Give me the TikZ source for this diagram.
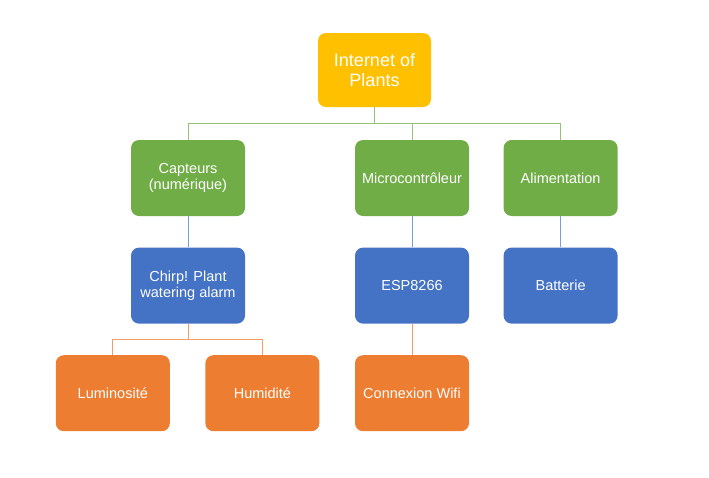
\documentclass[tikz,border=0pt]{standalone}
\usepackage{fontspec}
\setmainfont{Liberation Sans}
\usetikzlibrary{positioning}

\definecolor{gold}{HTML}{FFC000}
\definecolor{leafgreen}{HTML}{70AD47}
\definecolor{deepblue}{HTML}{4472C4}
\definecolor{carrot}{HTML}{ED7D31}

\begin{document}
\begin{tikzpicture}[x=1pt,y=1pt,node distance=31pt and 36pt,
                    semithick]
  \tikzset{
    box/.style={rounded corners=8pt,minimum width=114pt,minimum height=76pt,
                inner sep=0pt,align=center,text=white,
                font=\fontsize{14.5}{16.5}\selectfont},
    rootbox/.style={box,fill=gold,minimum width=113pt,minimum height=74pt,
                    font=\fontsize{18}{20}\selectfont},
    greenbox/.style={box,fill=leafgreen},
    bluebox/.style={box,fill=deepblue},
    orangebox/.style={box,fill=carrot},
    greenline/.style={draw=leafgreen!75!white,line width=0.9pt},
    blueline/.style={draw=deepblue!70!white,line width=0.9pt},
    orangeline/.style={draw=carrot!75!white,line width=0.9pt}
  }
  \useasboundingbox (0,0) rectangle (709,-477);

  \node[rootbox]  (iop)  at (374.5,-70)             {Internet of\\Plants};

  \node[greenbox] (capt) at (188,-178)              {Capteurs\\(numérique)};
  \node[greenbox] (micro) at (412,-178)             {Microcontrôleur};
  \node[greenbox] (alim) [right=34pt of micro]      {Alimentation};

  \node[bluebox]  (chirp) [below=of capt]           {Chirp! Plant\\watering alarm};
  \node[bluebox]  (esp)   [below=of micro]          {ESP8266};
  \node[bluebox]  (batt)  [below=of alim]           {Batterie};

  \node[orangebox] (wifi)  [below=31pt of esp]      {Connexion Wifi};
  \node[orangebox] (humid) [left=35pt of wifi]      {Humidité};
  \node[orangebox] (lumi)  [left=35pt of humid]     {Luminosité};

  \path[greenline] (iop.south) -- ++(0,-16.5) -| (capt.north)
                   (iop.south) -- ++(0,-16.5) -| (micro.north)
                   (iop.south) -- ++(0,-16.5) -| (alim.north);

  \path[blueline] (capt.south) -- (chirp.north)
                  (micro.south) -- (esp.north)
                  (alim.south) -- (batt.north);

  \path[orangeline] (chirp.south) -- ++(0,-15.5) -| (lumi.north)
                    (chirp.south) -- ++(0,-15.5) -| (humid.north)
                    (esp.south) -- (wifi.north);

\end{tikzpicture}
\end{document}
